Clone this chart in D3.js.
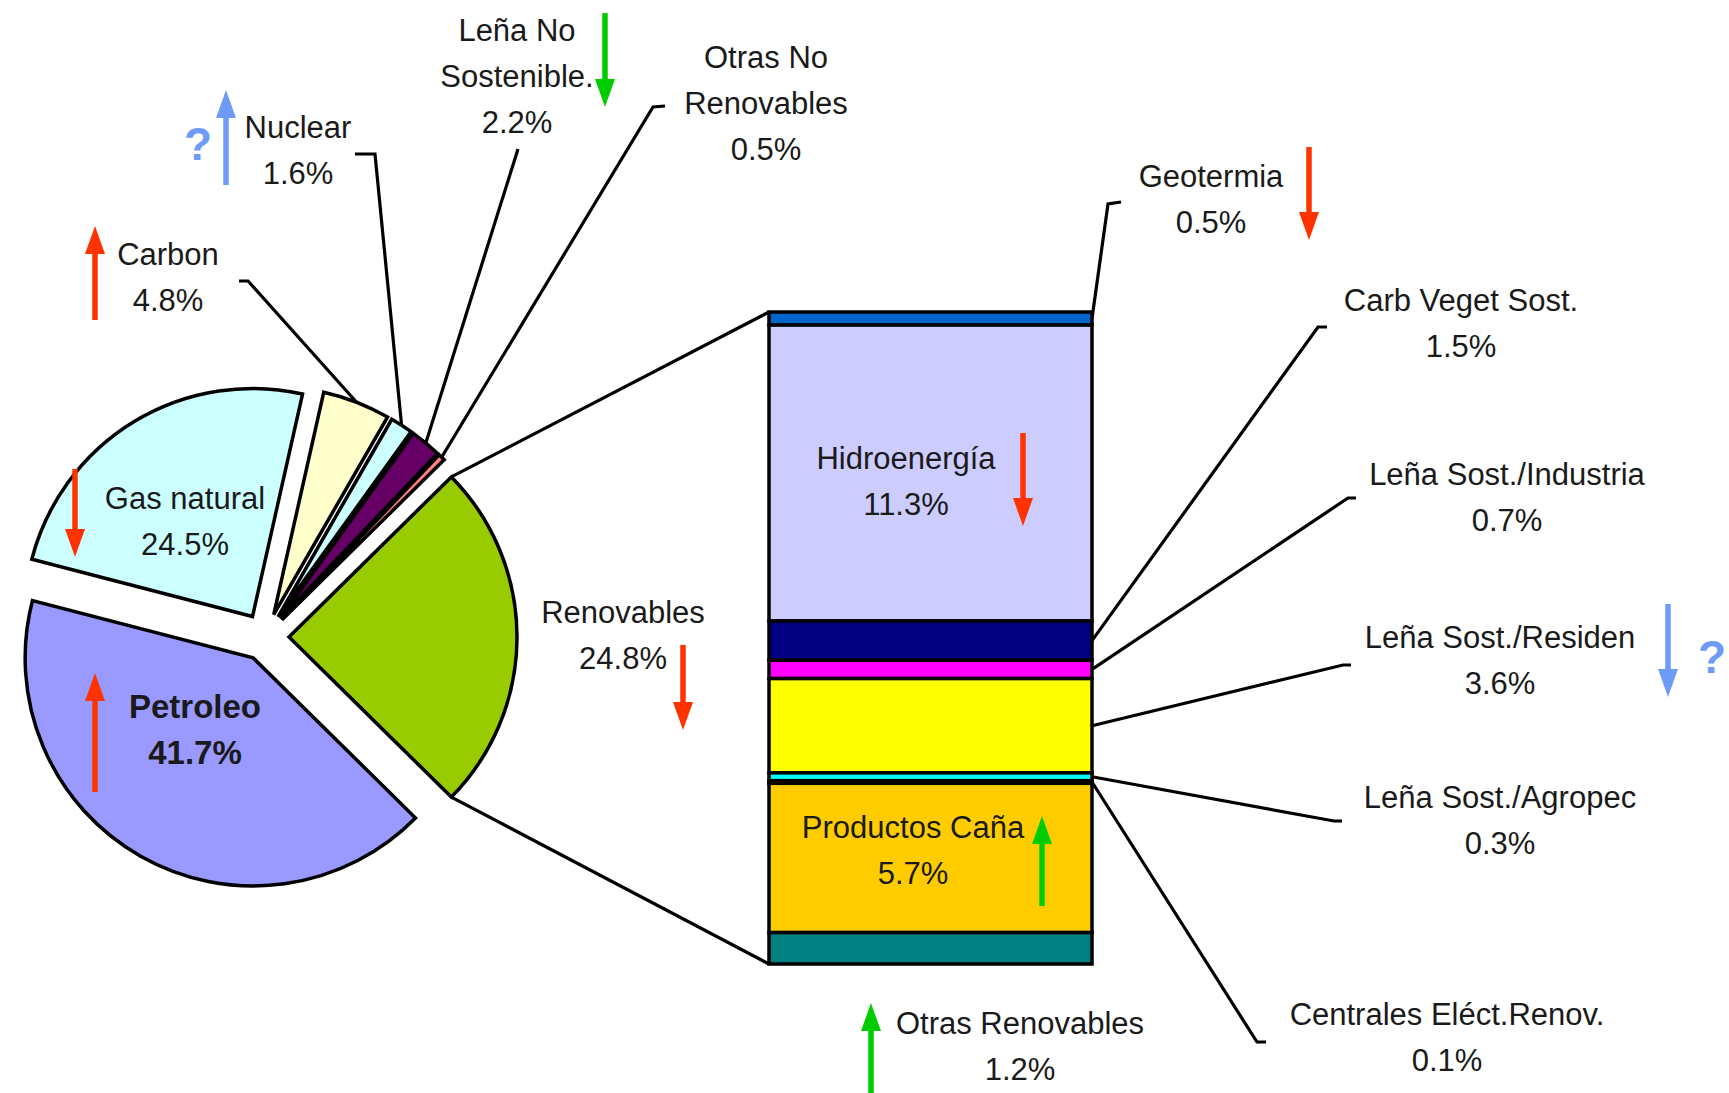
<!DOCTYPE html>
<html>
<head>
<meta charset="utf-8">
<script src="https://cdn.jsdelivr.net/npm/d3@7"></script>
<style>
  body { margin: 0; background: #fff; }
  svg text { font-family: "Liberation Sans", Arial, sans-serif; font-size: 31px; fill: #1a1a1a; }
</style>
</head>
<body>
<svg id="chart" width="1729" height="1093"></svg>
<script>
// pie data (main split)
const pieNames = ["Renovables", "Petroleo", "Gas natural", "Carbon", "Nuclear", "Leña No Sostenible.", "Otras No Renovables"];
const pieValues = [24.8, 41.7, 24.5, 4.8, 1.6, 2.2, 0.5];
const pieTrend = ["down", "up", "down", "up", "up", "down", null];
const pieTrendKind = ["bad", "bad", "bad", "bad", "unsure", "good", null];

// bar data (breakdown of Renovables)
const barNames = ["Geotermia", "Hidroenergía", "Carb Veget Sost.", "Leña Sost./Industria", "Leña Sost./Residen",
                  "Leña Sost./Agropec", "Centrales Eléct.Renov.", "Productos Caña", "Otras Renovables"];
const barValues = [0.5, 11.3, 1.5, 0.7, 3.6, 0.3, 0.1, 5.7, 1.2];
const barTrend = ["down", "down", null, null, "down", null, null, "up", "up"];
const barTrendKind = ["bad", "bad", null, null, "unsure", null, null, "good", "good"];

// styles
const pieColors = ["#99CC00", "#9999FF", "#CCFFFF", "#FFFFCC", "#CCFFFF", "#660066", "#FF8080"];
const barColors = ["#0066CC", "#CCCCFF", "#000080", "#FF00FF", "#FFFF00", "#00FFFF", "#800080", "#FFCC00", "#008080"];
const arrowColor = { bad: "#FF3300", good: "#00CC00", unsure: "#6E9BF5" };

// layout of labels, arrows and leader elbows
const pieLayout = {
  "Renovables": { lines: ["Renovables"], x: 623, y: 612, ax: 683, ay: [645, 730] },
  "Petroleo": { lines: ["Petroleo"], x: 195, y: 706, bold: true, ax: 95, ay: [673, 792] },
  "Gas natural": { lines: ["Gas natural"], x: 185, y: 498, ax: 75, ay: [469, 557] },
  "Carbon": { lines: ["Carbon"], x: 168, y: 254, ax: 95, ay: [226, 320], leader: [[239, 281], [248, 281]] },
  "Nuclear": { lines: ["Nuclear"], x: 298, y: 127, ax: 226, ay: [90, 185], q: [198, 143], leader: [[355, 154], [375, 154]] },
  "Leña No Sostenible.": { lines: ["Leña No", "Sostenible."], x: 517, y: 30, ax: 605, ay: [13, 107], leader: [[518, 149]] },
  "Otras No Renovables": { lines: ["Otras No", "Renovables"], x: 766, y: 57, leader: [[665, 106], [653, 107]] }
};
const barLayout = {
  "Geotermia": { lines: ["Geotermia"], x: 1211, y: 176, ax: 1309, ay: [147, 240], leader: [[1121, 202], [1108, 204]] },
  "Hidroenergía": { lines: ["Hidroenergía"], x: 906, y: 458, ax: 1023, ay: [433, 526] },
  "Carb Veget Sost.": { lines: ["Carb Veget Sost."], x: 1461, y: 300, leader: [[1327, 327], [1318, 327]] },
  "Leña Sost./Industria": { lines: ["Leña Sost./Industria"], x: 1507, y: 474, leader: [[1356, 498], [1348, 498]] },
  "Leña Sost./Residen": { lines: ["Leña Sost./Residen"], x: 1500, y: 637, ax: 1668, ay: [604, 697], q: [1712, 656], leader: [[1351, 665], [1343, 665]] },
  "Leña Sost./Agropec": { lines: ["Leña Sost./Agropec"], x: 1500, y: 797, leader: [[1342, 821], [1334, 821]] },
  "Centrales Eléct.Renov.": { lines: ["Centrales Eléct.Renov."], x: 1447, y: 1014, leader: [[1266, 1042], [1257, 1042]] },
  "Productos Caña": { lines: ["Productos Caña"], x: 913, y: 827, ax: 1042, ay: [816, 906] },
  "Otras Renovables": { lines: ["Otras Renovables"], x: 1020, y: 1023, ax: 871, ay: [1003, 1093] }
};

const svg = d3.select('#chart');
svg.append('rect').attr('width', 1729).attr('height', 1093).attr('fill', '#fff');

const cx = 265, cy = 637, radius = 228, explode = 24;
const lineGap = 46;
const fmt = v => d3.format('.1f')(v) + '%';

// ---- pie ----
const total = d3.sum(pieValues);
const a0 = Math.PI / 2 - (pieValues[0] / total) * Math.PI;
const pie = d3.pie().sort(null).value(d => d).startAngle(a0).endAngle(a0 + 2 * Math.PI);
const arc = d3.arc().innerRadius(0).outerRadius(radius);
const slices = pie(pieValues).map((d, i) => {
  const mid = (d.startAngle + d.endAngle) / 2;
  return Object.assign(d, { i, mid, ox: cx + explode * Math.sin(mid), oy: cy - explode * Math.cos(mid) });
});
const pointAt = (s, a, r) => [s.ox + r * Math.sin(a), s.oy - r * Math.cos(a)];

const lines = svg.append('g').attr('fill', 'none').attr('stroke', '#000').attr('stroke-width', 3.2);

svg.append('g').selectAll('path')
  .data(slices)
  .enter()
  .append('path')
  .attr('transform', d => `translate(${d.ox},${d.oy})`)
  .attr('d', arc)
  .attr('fill', d => pieColors[d.i])
  .attr('stroke', '#000')
  .attr('stroke-width', 3.5)
  .attr('stroke-linejoin', 'miter');

// ---- bar ----
const barX0 = 769, barX1 = 1092;
const barTotal = d3.sum(barValues);
const y = d3.scaleLinear().domain([0, barTotal]).range([312, 964]);
const cum = d3.cumsum(barValues);
const segs = barValues.map((v, i) => ({ i, v, top: y(cum[i] - v), bot: y(cum[i]) }));

svg.append('g').selectAll('rect')
  .data(segs)
  .enter()
  .append('rect')
  .attr('x', barX0)
  .attr('y', d => d.top)
  .attr('width', barX1 - barX0)
  .attr('height', d => d.bot - d.top)
  .attr('fill', d => barColors[d.i])
  .attr('stroke', '#000')
  .attr('stroke-width', 3.5);

// connectors from Renovables slice to bar
const ren = slices[0];
lines.append('line')
  .attr('x1', pointAt(ren, ren.startAngle, radius)[0]).attr('y1', pointAt(ren, ren.startAngle, radius)[1])
  .attr('x2', barX0).attr('y2', y(0));
lines.append('line')
  .attr('x1', pointAt(ren, ren.endAngle, radius)[0]).attr('y1', pointAt(ren, ren.endAngle, radius)[1])
  .attr('x2', barX0).attr('y2', y(barTotal));

// ---- labels, leaders, arrows ----
function drawArrow(x, yA, yB, dir, kind) {
  const color = arrowColor[kind];
  const tip = dir === 'up' ? yA : yB, tail = dir === 'up' ? yB : yA;
  const s = dir === 'up' ? 1 : -1, hl = 28, hw = 10;
  svg.append('line')
    .attr('x1', x).attr('y1', tail).attr('x2', x).attr('y2', tip + s * hl * 0.8)
    .attr('stroke', color).attr('stroke-width', 5.5);
  svg.append('path')
    .attr('d', `M${x},${tip} L${x - hw},${tip + s * hl} L${x + hw},${tip + s * hl} Z`)
    .attr('fill', color);
}

function drawLabel(L, value) {
  const t = svg.append('text').attr('text-anchor', 'middle')
    .attr('font-weight', L.bold ? 'bold' : null)
    .style('font-size', L.bold ? '33px' : null);
  L.lines.concat([fmt(value)]).forEach((s, k) => {
    t.append('tspan').attr('x', L.x).attr('y', L.y + k * lineGap).attr('dy', '0.36em').text(s);
  });
  if (L.q) {
    svg.append('text').attr('x', L.q[0]).attr('y', L.q[1]).attr('dy', '0.36em')
      .attr('text-anchor', 'middle').attr('font-weight', 'bold')
      .style('font-size', '46px').style('fill', arrowColor.unsure).text('?');
  }
}

slices.forEach(s => {
  const L = pieLayout[pieNames[s.i]];
  drawLabel(L, pieValues[s.i]);
  if (pieTrend[s.i]) drawArrow(L.ax, L.ay[0], L.ay[1], pieTrend[s.i], pieTrendKind[s.i]);
  if (L.leader) {
    const pts = L.leader.concat([pointAt(s, s.mid, radius)]);
    lines.append('path').attr('d', d3.line()(pts));
  }
});

segs.forEach(s => {
  const L = barLayout[barNames[s.i]];
  drawLabel(L, barValues[s.i]);
  if (barTrend[s.i]) drawArrow(L.ax, L.ay[0], L.ay[1], barTrend[s.i], barTrendKind[s.i]);
  if (L.leader) {
    const pts = L.leader.concat([[barX1, (s.top + s.bot) / 2]]);
    lines.append('path').attr('d', d3.line()(pts));
  }
});
lines.raise();
</script>
</body>
</html>
